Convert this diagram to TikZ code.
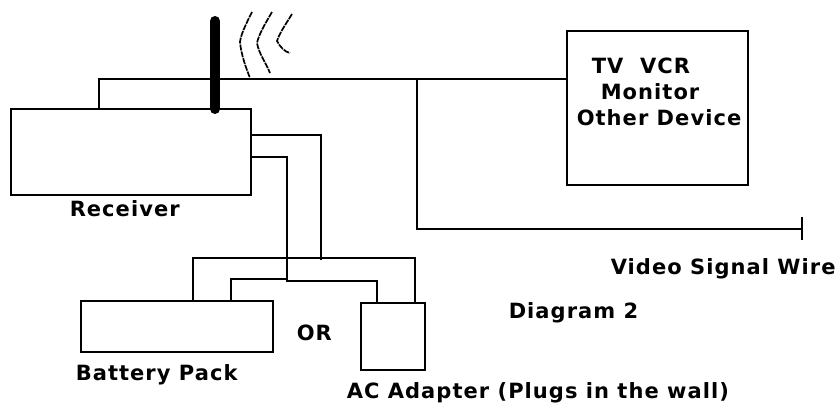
\documentclass[tikz,border=0pt]{standalone}
\usepackage{fontspec}
\setmainfont[LetterSpace=5]{DejaVu Sans}
\usetikzlibrary{positioning}
\tikzset{
	box/.style={draw,rectangle,inner sep=0pt,outer sep=0pt,anchor=north west},
	wire/.style={draw,line width=1.5pt},
	wave/.style={draw,line width=1.7pt,dash pattern=on 6pt off 1pt},
	lab/.style={anchor=base west,inner sep=0pt,font=\fontsize{21}{24}\selectfont\bfseries}
}
\begin{document}
\begin{tikzpicture}[x=1pt,y=-1pt,line width=1.5pt]
		\useasboundingbox (0,0) rectangle (837,403);
		\node[box,minimum width=240pt,minimum height=86pt]  (Rx)  at (11,109)  {};
		\node[box,minimum width=181pt,minimum height=154pt] (TV)  at (567,31)  {};
		\node[box,minimum width=192pt,minimum height=51pt]  (Bat) at (81,301)  {};
		\node[box,minimum width=64pt,minimum height=67pt]   (AC)  at (361,303) {};
		
		\coordinate (A_1) at (99,79);
		\coordinate (A_2) at (417,79);
		\coordinate (A_3) at (417,229);
		\coordinate (A_4) at (801,229);
		\coordinate (T_1) at (802,217);
		\coordinate (T_2) at (802,240);
		\coordinate (J_1) at (321,135);
		\coordinate (J_2) at (287,157);
		\coordinate (J_3) at (321,260);
		\coordinate (J_4) at (287,279);
		\coordinate (J_5) at (193,258);
		\coordinate (J_6) at (415,258);
		\coordinate (J_7) at (231,279);
		\coordinate (J_8) at (287,281);
		\coordinate (J_9) at (377,281);
		\coordinate (Top) at (215,21);
		
		% antenna
		\draw[line width=10pt,line cap=round] (Top) -- (Top |- Rx.north);
		
		% signal lines
		\path[wire] (A_1 |- Rx.north) -- (A_1) -- (TV.west |- A_1);
		\path[wire] (A_2) -- (A_3) -- (A_4);
		\path[wire] (T_1) -- (T_2);
		
		% power lines
		\path[wire] (Rx.east |- J_1) -- (J_1) -- (J_3);
		\path[wire] (Rx.east |- J_2) -- (J_2) -- (J_4);
		\path[wire] (J_5 |- Bat.north) -- (J_5) -- (J_6) -- (J_6 |- AC.north);
		\path[wire] (J_7 |- Bat.north) -- (J_7) -- (J_4) -- (J_8) -- (J_9) -- (J_9 |- AC.north);
		
		% waves
		\path[wave] (252,12) .. controls (246,24) and (241,34) .. (240,42) .. controls (241,54) and (246,68) .. (250,78);
		\path[wave] (272,12) .. controls (265,24) and (259,34) .. (257,43) .. controls (259,54) and (266,63) .. (270,73);
		\path[wave] (292,14) .. controls (286,24) and (280,32) .. (277,41) .. controls (280,47) and (285,52) .. (290,53);
		
		\node[lab] (L_1) at (69,217)  {Receiver};
		\node[lab] (L_2) at (591,74)  {TV\ \ VCR};
		\node[lab] (L_3) at (600,100) {Monitor};
		\node[lab] (L_4) at (576,126) {Other Device};
		\node[lab] (L_5) at (610,274) {Video Signal Wire};
		\node[lab] (L_6) at (508,318) {Diagram 2};
		\node[lab] (L_7) at (296,340) {OR};
		\node[lab] (L_8) at (75,380)  {Battery Pack};
		\node[lab] (L_9) at (346,398) {AC Adapter (Plugs in the wall)};
	\end{tikzpicture}
\end{document}
